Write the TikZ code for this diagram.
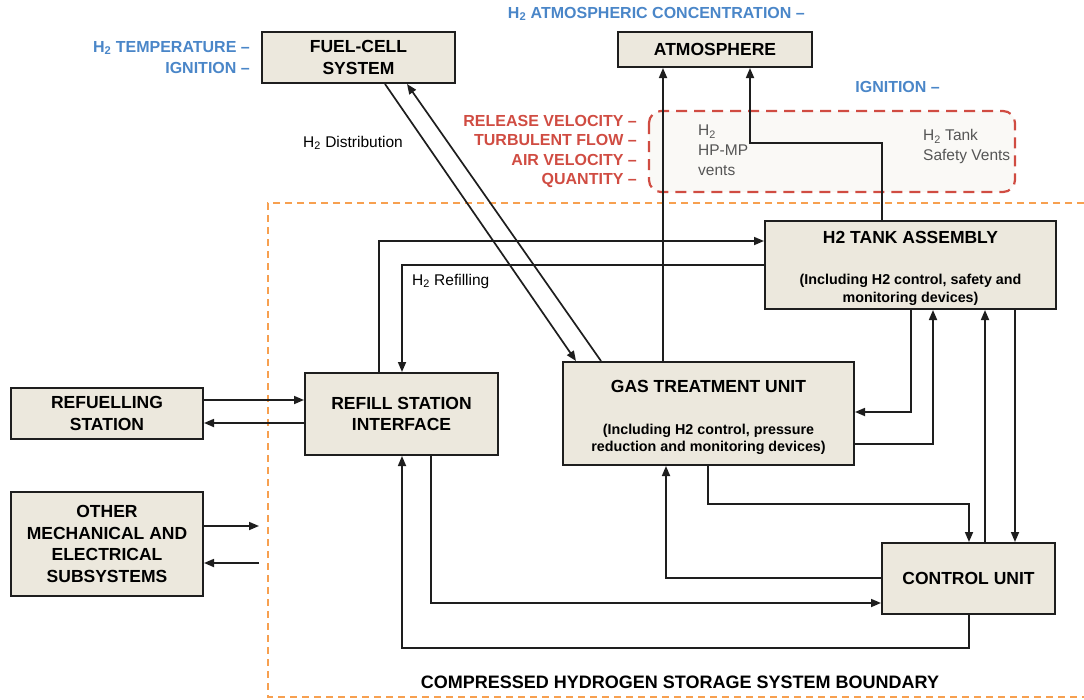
\documentclass[tikz,border=0pt]{standalone}
\usepackage{fontspec}
\setmainfont{Liberation Sans}
\usetikzlibrary{arrows.meta}
\definecolor{boxfill}{RGB}{236,232,221}
\definecolor{boxline}{RGB}{30,30,30}
\definecolor{infoblue}{RGB}{74,134,200}
\definecolor{hazred}{RGB}{208,76,66}
\definecolor{bndorange}{RGB}{247,160,80}
\definecolor{ventgray}{RGB}{85,85,85}
\definecolor{ventfill}{RGB}{250,249,246}
\newcommand{\Htwo}{H\textsubscript{2}}

\begin{document}
\begin{tikzpicture}[x=1pt,y=-1pt,
    block/.style={draw=boxline, fill=boxfill, line width=2pt, align=center, inner sep=0pt,
      font=\bfseries\fontsize{17.5}{21.5}\selectfont},
    flow/.style={draw=boxline, line width=1.7pt, -{Triangle[length=10pt,width=8pt]}},
    infolbl/.style={text=infoblue, inner sep=0pt, font=\bfseries\fontsize{16}{19}\selectfont},
    hazlbl/.style={text=hazred, inner sep=0pt, font=\bfseries\fontsize{16}{19}\selectfont},
    note/.style={inner sep=0pt, align=left, font=\fontsize{15.5}{20}\selectfont}]
  \useasboundingbox (0,0) rectangle (1084,699);

  % system boundary and vent zone
  \draw[bndorange, line width=1.6pt, dash pattern=on 7pt off 5pt]
    (1084,203) -- (268,203) -- (268,697) -- (1084,697);
  \draw[hazred, fill=ventfill, line width=2.2pt, dash pattern=on 11pt off 7pt, rounded corners=12pt]
    (649,111) rectangle (1015,192);

  % blocks
  \node[block, minimum width=193pt, minimum height=51pt] (fuel) at (358.5,57.5) {FUEL-CELL\\SYSTEM};
  \node[block, minimum width=194pt, minimum height=35pt] (atmos) at (715,49.5) {ATMOSPHERE};
  \node[block, minimum width=291pt, minimum height=88pt, font=\bfseries\fontsize{14.3}{18}\selectfont] (tank) at (910.5,265)
    {\rule{0pt}{19pt}{\fontsize{17.5}{21}\selectfont H2 TANK ASSEMBLY}\\[23pt](Including H2 control, safety and\\monitoring devices)};
  \node[block, minimum width=291pt, minimum height=103pt, font=\bfseries\fontsize{14.3}{17}\selectfont] (gtu) at (708.5,413.5)
    {\rule{0pt}{20pt}{\fontsize{17.5}{21}\selectfont GAS TREATMENT UNIT}\\[25pt](Including H2 control, pressure\\reduction and monitoring devices)};
  \node[block, minimum width=193pt, minimum height=82pt] (refill) at (401.5,414) {REFILL STATION\\INTERFACE};
  \node[block, minimum width=192pt, minimum height=51pt] (refuel) at (107,413.5) {REFUELLING\\STATION};
  \node[block, minimum width=192pt, minimum height=104pt] (other) at (107,544) {OTHER\\MECHANICAL AND\\ELECTRICAL\\SUBSYSTEMS};
  \node[block, minimum width=173pt, minimum height=71pt] (control) at (968.5,578.5) {CONTROL UNIT};

  % labels
  \node[infolbl, anchor=east] (temp) at (250,48) {\Htwo{} TEMPERATURE --};
  \node[infolbl, anchor=east] (ignfc) at (250,68) {IGNITION --};
  \node[infolbl, anchor=east] (conc) at (805,14) {\Htwo{} ATMOSPHERIC CONCENTRATION --};
  \node[infolbl, anchor=east] (ignvent) at (940,87) {IGNITION --};
  \node[hazlbl, anchor=east] (relvel) at (637,121) {RELEASE VELOCITY --};
  \node[hazlbl, anchor=east] (turb) at (637,140) {TURBULENT FLOW --};
  \node[hazlbl, anchor=east] (airvel) at (637,160) {AIR VELOCITY --};
  \node[hazlbl, anchor=east] (qty) at (637,180) {QUANTITY --};
  \node[note, text=ventgray, anchor=north west] (hpmp) at (698,125) {\Htwo\\HP-MP\\vents};
  \node[note, text=ventgray, anchor=north west] (safety) at (923,129) {\Htwo{} Tank\\Safety Vents};
  \node[note, anchor=center] (distr) at (353,143) {\Htwo{} Distribution};
  \node[note, anchor=west] (refilling) at (412,281) {\Htwo{} Refilling};
  \node[inner sep=0pt, font=\bfseries\fontsize{18}{21}\selectfont] (bound) at (680,682)
    {COMPRESSED HYDROGEN STORAGE SYSTEM BOUNDARY};

  % route points
  \coordinate (fa) at (385,0);
  \coordinate (fb) at (407,0);
  \coordinate (ga) at (576,0);
  \coordinate (gb) at (601,0);
  \coordinate (av) at (663,0);
  \coordinate (ab) at (750,143);
  \coordinate (tv) at (882,0);
  \coordinate (rt) at (379,241);
  \coordinate (tr) at (402,265);
  \coordinate (td) at (911,412);
  \coordinate (tu) at (933,444);
  \coordinate (cu) at (985,0);
  \coordinate (cd) at (1015,0);
  \coordinate (gb2) at (708,0);
  \coordinate (gc) at (969,504);
  \coordinate (cg) at (666,578);
  \coordinate (rc) at (431,603);
  \coordinate (cr) at (402,648);
  \coordinate (oout) at (259,526);
  \coordinate (oin) at (259,563);
  \coordinate (sin) at (0,400);
  \coordinate (sout) at (0,423);

  % connectors
  \draw[flow] (fuel.south -| fa) -- (gtu.north -| ga);
  \draw[flow] (gtu.north -| gb) -- (fuel.south -| fb);
  \draw[flow] (gtu.north -| av) -- (atmos.south -| av);
  \draw[flow] (tank.north -| tv) |- (ab) -- (atmos.south -| ab);
  \draw[flow] (refill.north -| rt) |- (tank.west |- rt);
  \draw[flow] (tank.west |- tr) -| (refill.north -| tr);
  \draw[flow] (refuel.east |- sin) -- (refill.west |- sin);
  \draw[flow] (refill.west |- sout) -- (refuel.east |- sout);
  \draw[flow] (other.east |- oout) -- (oout);
  \draw[flow] (oin) -- (other.east |- oin);
  \draw[flow] (tank.south -| td) |- (gtu.east |- td);
  \draw[flow] (gtu.east |- tu) -| (tank.south -| tu);
  \draw[flow] (control.north -| cu) -- (tank.south -| cu);
  \draw[flow] (tank.south -| cd) -- (control.north -| cd);
  \draw[flow] (gtu.south -| gb2) |- (gc) -- (control.north -| gc);
  \draw[flow] (control.west |- cg) -- (cg) -- (gtu.south -| cg);
  \draw[flow] (refill.south -| rc) |- (control.west |- rc);
  \draw[flow] (control.south -| gc) |- (cr) -- (refill.south -| cr);
\end{tikzpicture}
\end{document}
